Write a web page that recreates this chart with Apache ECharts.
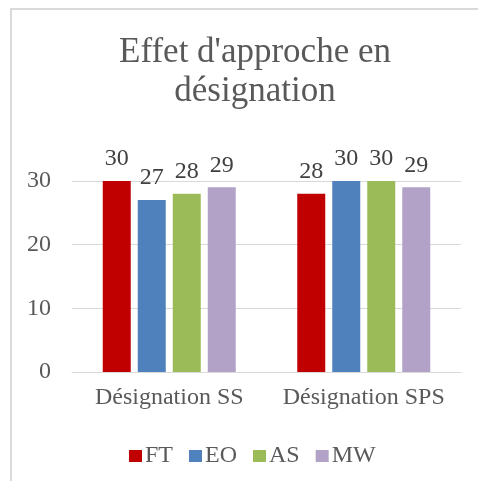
<!DOCTYPE html>
<html>
<head>
<meta charset="utf-8">
<script src="https://cdn.jsdelivr.net/npm/echarts@6/dist/echarts.min.js"></script>
<style>
  html, body { margin: 0; padding: 0; background: #fff; }
  #frame { position: absolute; left: 10px; top: 8px; width: 490px; height: 490px; border: 2px solid #d9d9d9; box-sizing: border-box; }
  #chart { position: absolute; left: 0; top: 0; width: 478px; height: 481px; }
</style>
</head>
<body>
<div id="frame"></div>
<div id="chart"></div>
<script>
const categories = ["Désignation SS", "Désignation SPS"];
const seriesNames = ["FT", "EO", "AS", "MW"];
const seriesColors = ["#c00000", "#4f81bd", "#9bbb59", "#b3a2c7"];
const ftValues = [30, 28];
const eoValues = [27, 30];
const asValues = [28, 30];
const mwValues = [29, 29];
const yTicks = [0, 10, 20, 30];

const allValues = [ftValues, eoValues, asValues, mwValues];
const font = "'Liberation Serif', 'Times New Roman', serif";

const chart = echarts.init(document.getElementById("chart"));

const option = {
  animation: false,
  title: {
    text: "Effet d'approche en\ndésignation",
    left: 250,
    top: 28,
    textAlign: "center",
    textStyle: {
      fontFamily: font,
      fontSize: 35,
      fontWeight: "normal",
      color: "#595959",
      lineHeight: 39,
    },
  },
  legend: {
    data: seriesNames,
    left: 124,
    top: 439,
    icon: "rect",
    itemWidth: 13,
    itemHeight: 12,
    itemGap: 16,
    textStyle: { fontFamily: font, fontSize: 24, color: "#595959", padding: [0, 0, 0, -2] },
  },
  grid: { left: 72, right: 17, top: 181, bottom: 109 },
  xAxis: {
    type: "category",
    data: categories,
    axisLine: { lineStyle: { color: "#d9d9d9", width: 1 } },
    axisTick: { show: false },
    axisLabel: { interval: 0, hideOverlap: false, fontFamily: font, fontSize: 24, color: "#595959", margin: 14 },
  },
  yAxis: {
    type: "value",
    min: yTicks[0],
    max: yTicks[yTicks.length - 1],
    interval: 10,
    axisLine: { show: false },
    axisTick: { show: false },
    splitLine: { lineStyle: { color: "#d9d9d9", width: 1 } },
    axisLabel: { fontFamily: font, fontSize: 24, color: "#595959", margin: 21 },
  },
  series: seriesNames.map((name, i) => ({
    name: name,
    type: "bar",
    data: allValues[i],
    barWidth: 28,
    barGap: "25%",
    itemStyle: { color: seriesColors[i] },
    label: {
      show: true,
      position: "top",
      distance: 10,
      fontFamily: font,
      fontSize: 24,
      color: "#404040",
    },
  })),
};

chart.setOption(option);
</script>
</body>
</html>
